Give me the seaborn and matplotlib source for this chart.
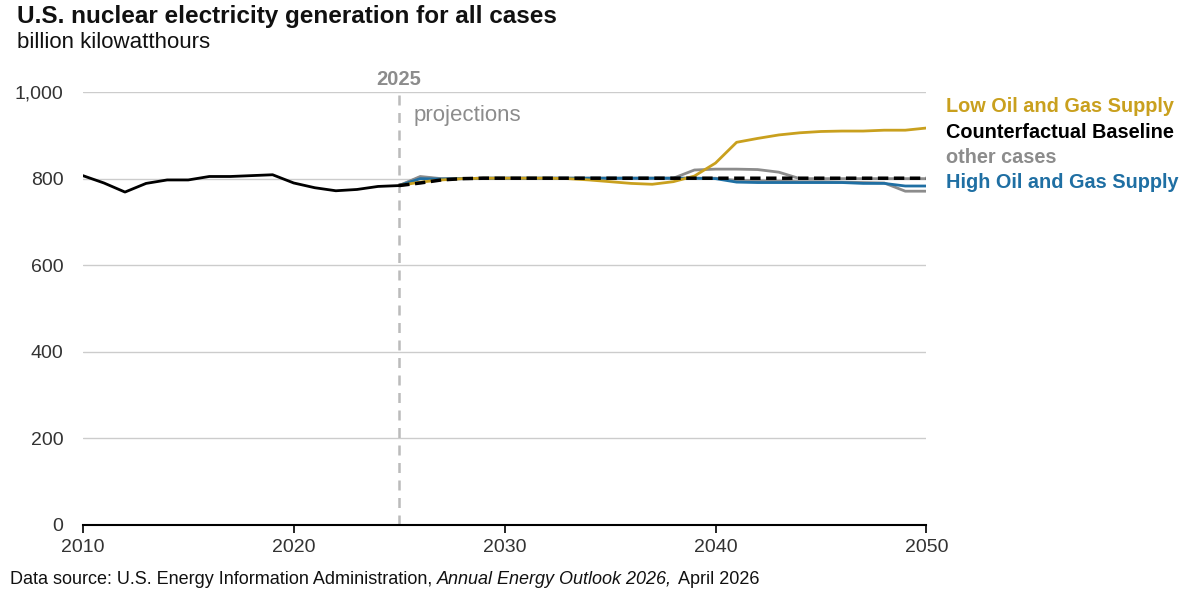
import numpy as np
import pandas as pd
import matplotlib
matplotlib.use("Agg")
import matplotlib.pyplot as plt
import seaborn as sns

# ---- data ----
hist_years = list(range(2010, 2026))
hist_vals = [807, 790, 769, 789, 797, 797, 805, 805, 807, 809, 790, 779, 772, 775, 782, 784]

proj_years = list(range(2025, 2051))
baseline = [784, 790, 797, 800, 801, 801, 801, 801, 801, 801, 801, 801, 801, 801, 801,
            801, 801, 801, 801, 801, 801, 801, 801, 801, 801, 801]
low_og = [784, 792, 797, 800, 801, 801, 801, 801, 800, 797, 793, 789, 787, 793, 806,
          836, 884, 893, 901, 906, 909, 910, 910, 912, 912, 917]
high_og = [784, 800, 799, 800, 801, 801, 801, 801, 801, 801, 801, 801, 801, 801, 801,
           800, 792, 791, 791, 791, 791, 791, 789, 789, 783, 783]
other_a = [784, 805, 800, 800, 801, 801, 801, 801, 801, 801, 801, 801, 801, 801, 820,
           822, 822, 821, 815, 800, 800, 800, 800, 800, 800, 800]
other_b = [784, 803, 799, 800, 801, 801, 801, 801, 801, 801, 801, 801, 801, 801, 801,
           801, 796, 795, 794, 793, 793, 792, 791, 790, 771, 771]

y_ticks = [0, 200, 400, 600, 800, 1000]
y_tick_labels = ["0", "200", "400", "600", "800", "1,000"]
x_ticks = [2010, 2020, 2030, 2040, 2050]

GOLD = "#C9A01E"
BLUE = "#1F6FA3"
GRAY = "#8C8C8C"

sns.set_theme(style="white")
plt.rcParams["font.family"] = ["Liberation Sans", "DejaVu Sans"]

fig = plt.figure(figsize=(12, 6.06), dpi=100)
ax = fig.add_axes([0.069, 0.134, 0.703, 0.714])

def frame(years, vals):
    return pd.DataFrame({"year": years, "value": vals})

sns.lineplot(data=frame(proj_years, other_a), x="year", y="value", ax=ax, color=GRAY, lw=2)
sns.lineplot(data=frame(proj_years, other_b), x="year", y="value", ax=ax, color=GRAY, lw=2)
sns.lineplot(data=frame(proj_years, high_og), x="year", y="value", ax=ax, color=BLUE, lw=2)
sns.lineplot(data=frame(proj_years, low_og), x="year", y="value", ax=ax, color=GOLD, lw=2)
sns.lineplot(data=frame(proj_years, baseline), x="year", y="value", ax=ax, color="black",
             lw=2.5, linestyle=(0, (3, 1.6)))
sns.lineplot(data=frame(hist_years, hist_vals), x="year", y="value", ax=ax, color="black", lw=2)

ax.set_xlim(2010, 2050)
ax.set_ylim(0, 1000)
ax.set_yticks(y_ticks)
ax.set_yticklabels(y_tick_labels)
ax.set_xticks(x_ticks)
ax.set_xlabel("")
ax.set_ylabel("")
for v in y_ticks[1:]:
    ax.axhline(v, color="#CCCCCC", lw=1, zorder=0)

for s in ["top", "right", "left"]:
    ax.spines[s].set_visible(False)
ax.spines["bottom"].set_color("black")
ax.spines["bottom"].set_linewidth(1.5)
ax.tick_params(axis="x", which="both", bottom=True, length=6, width=1.2, color="black",
               labelsize=14, labelcolor="#333333", pad=4)
ax.tick_params(axis="y", left=False, length=0, labelsize=14, labelcolor="#333333", pad=14)

# projections marker
ax.plot([2025, 2025], [0, 1000], transform=ax.transData, color="#BBBBBB", lw=1.8,
        linestyle=(0, (4, 3)), clip_on=False, zorder=1)
ax.text(2025, 1008, "2025", ha="center", va="bottom", fontsize=14.5, fontweight="bold", color=GRAY)
ax.text(2025.7, 945, "projections", ha="left", va="center", fontsize=16, color=GRAY)

# legend labels
lx = 0.788
lfs = 14.3
fig.text(lx, 1 - 107 / 606, "Low Oil and Gas Supply", color=GOLD, fontsize=lfs, fontweight="bold", va="center")
fig.text(lx, 1 - 132 / 606, "Counterfactual Baseline", color="black", fontsize=lfs, fontweight="bold", va="center")
fig.text(lx, 1 - 157 / 606, "other cases", color=GRAY, fontsize=lfs, fontweight="bold", va="center")
fig.text(lx, 1 - 182 / 606, "High Oil and Gas Supply", color=BLUE, fontsize=lfs, fontweight="bold", va="center")

fig.text(17 / 1200, 1 - 16 / 606, "U.S. nuclear electricity generation for all cases",
         fontsize=17.5, fontweight="bold", color="#111111", va="center")
fig.text(17 / 1200, 1 - 43 / 606, "billion kilowatthours", fontsize=16, color="#111111", va="center")

# source line in pieces (regular / italic / regular)
fig.canvas.draw()
renderer = fig.canvas.get_renderer()
pieces = [("Data source: U.S. Energy Information Administration, ", "normal"),
          ("Annual Energy Outlook 2026,", "italic"),
          (" April 2026", "normal")]
xpix = 10
for txt, style in pieces:
    t = fig.text(xpix / 1200, 1 - 580 / 606, txt, fontsize=13, color="#111111",
                 va="center", style=style)
    bb = t.get_window_extent(renderer=renderer)
    xpix = bb.x1 + (2 if style == "italic" else 0)

fig.savefig("out.png", dpi=100)
